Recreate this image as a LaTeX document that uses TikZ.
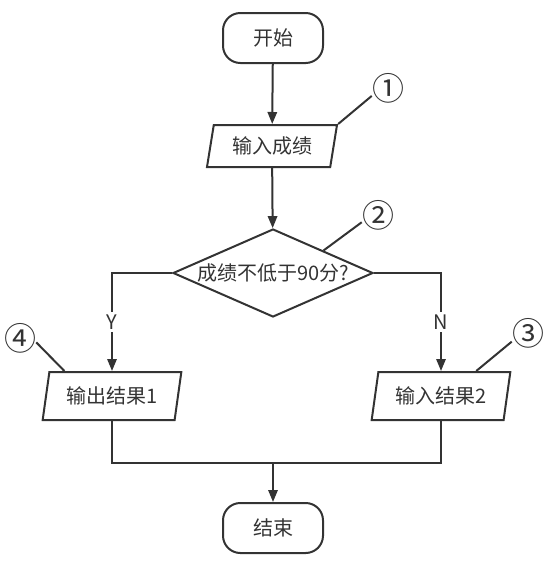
\documentclass[tikz,border=0pt]{standalone}
\usepackage{fontspec}
\setmainfont{Noto Sans CJK SC}
\usepackage{tikz}
\usetikzlibrary{arrows.meta,positioning,calc,shapes.geometric}
\definecolor{lineGray}{RGB}{51,51,51}

\begin{document}
\begin{tikzpicture}[x=0.75pt, y=-0.75pt,
    every node/.style={font=\fontsize{15pt}{18pt}\selectfont, text=lineGray},
    terminal/.style={draw=lineGray, line width=1.5pt, rounded corners=13pt,
        minimum width=75pt, minimum height=37.5pt},
    io/.style={draw=lineGray, line width=1.5pt, trapezium, trapezium left angle=70,
        trapezium right angle=110, trapezium stretches body, inner sep=0pt},
    decision/.style={draw=lineGray, line width=1.5pt, diamond, aspect=2.3,
        inner sep=0pt, minimum width=150pt, minimum height=66pt},
    callout/.style={font=\fontsize{24pt}{26pt}\selectfont, inner sep=0pt},
    flow/.style={draw=lineGray, line width=1.5pt, -{Triangle[length=9pt,width=7pt]}},
    plain/.style={draw=lineGray, line width=1.5pt}]
    \useasboundingbox (0,0) rectangle (551,561);

    % Main column
    \node[terminal] (start) at (273,38) {开始};
    \node[io, minimum width=97.5pt, minimum height=31.5pt] (in1) at (272,146) {输入成绩};
    \node[decision] (cond) at (273,273) {成绩不低于90分?};

    % Two branches
    \node[io, minimum width=104pt, minimum height=36pt] (out1) at (112,396) {输出结果1};
    \node[io, minimum width=104pt, minimum height=36pt] (out2) at (441,396) {输入结果2};

    % End
    \coordinate (merge) at (273,463);
    \node[terminal] (stop) at (273,528) {结束};

    % Connectors
    \draw[flow] (start) -- (in1);
    \draw[flow] (in1) -- (cond);
    \draw[flow] (cond.west) -| node[pos=0.75, fill=white, inner sep=2pt] {Y} (out1.north);
    \draw[flow] (cond.east) -| node[pos=0.75, fill=white, inner sep=2pt] {N} (out2.north);
    \draw[plain] (out1.south) |- (merge);
    \draw[plain] (out2.south) |- (merge);
    \draw[flow] (merge) -- (stop);

    % Numbered callouts
    \node[callout] (c1) at (388,88) {①};
    \node[callout] (c2) at (378,215) {②};
    \node[callout] (c3) at (528,333) {③};
    \node[callout] (c4) at (20,338) {④};
    \draw[plain] (in1.top right corner) -- (c1.206);
    \draw[plain] (cond.north east) -- (c2.204);
    \draw[plain] ($(out2.north)!0.5!(out2.top right corner)$) -- (c3.208);
    \draw[plain] ($(out1.north)!0.75!(out1.top left corner)$) -- (c4.345);
\end{tikzpicture}
\end{document}
